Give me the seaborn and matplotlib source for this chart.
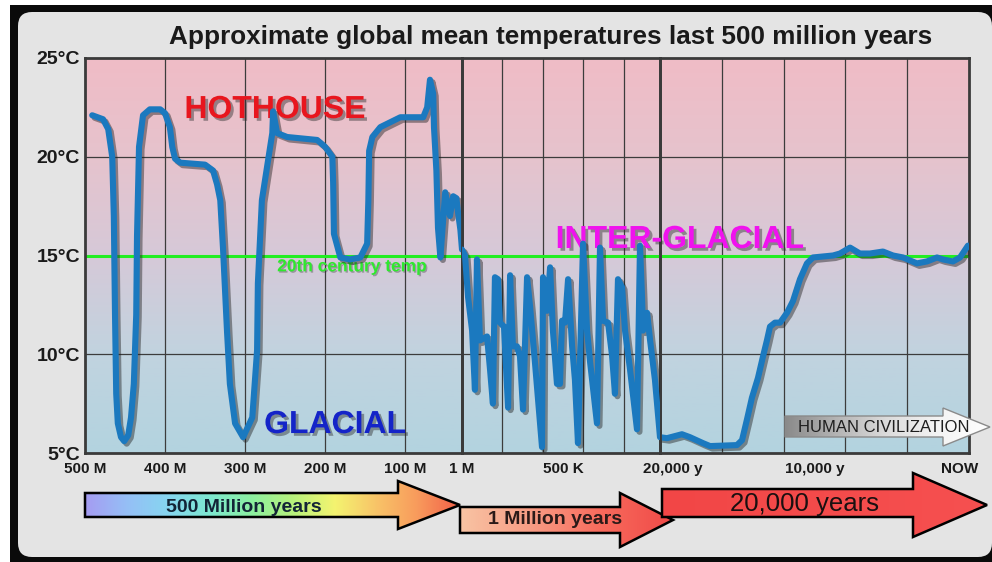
import numpy as np
import matplotlib
matplotlib.use("Agg")
import matplotlib.pyplot as plt
import matplotlib.patheffects as pe
from matplotlib.patches import Polygon, FancyBboxPatch, Rectangle
from matplotlib.colors import LinearSegmentedColormap
from matplotlib.transforms import ScaledTranslation
import seaborn as sns

# ---------------- data ----------------
# Panel 1: 500 million years (x = million years ago, schematic scale)
p1_myr = [491, 477.5, 471, 466, 464, 462.5, 461, 459, 455, 451, 446, 442.5, 439, 436, 435,
          432.5, 427.5, 419, 406, 400, 394, 391, 387.5, 381, 350, 340, 335, 331, 327.5, 322.5,
          319, 312.5, 302.5, 291, 285, 284, 279, 272.5, 266, 265, 260, 247.5, 210, 200, 191,
          190, 189, 181, 169, 156, 147.5, 146, 145, 141, 131, 106, 77.5, 72.5, 69, 65, 64, 61,
          59, 56, 50, 44, 40, 36, 34, 31, 29]
p1_temp = [22.1, 21.9, 21.4, 20.0, 17.0, 12.0, 8.0, 6.5, 5.8, 5.6, 5.9, 6.8, 8.5, 12.0, 16.0,
           20.5, 22.1, 22.4, 22.4, 22.2, 21.5, 20.5, 19.9, 19.7, 19.6, 19.3, 18.6, 17.8, 15.3, 11.1,
           8.5, 6.5, 5.8, 6.8, 10.2, 13.6, 17.8, 19.5, 21.2, 22.3, 21.2, 21.0, 20.85, 20.5, 20.0,
           18.7, 16.1, 14.9, 14.8, 14.9, 15.6, 17.8, 20.3, 21.0, 21.5, 22.0, 22.0, 22.5, 23.9, 23.2,
           21.5, 19.3, 16.4, 14.9, 18.2, 17.0, 18.0, 17.9, 17.2, 16.3, 15.3]

# Panel 2: last 1 million years (x = thousand years ago)
p2_kyr = [1000, 985, 970, 950, 936, 926, 911, 876, 861, 847, 837, 822, 812, 792, 772, 762, 748,
          728, 713, 698, 678, 663, 639, 604, 599, 579, 564, 550, 530, 515, 505, 490, 475, 455,
          441, 426, 401, 381, 366, 332, 317, 302, 277, 257, 243, 228, 208, 193, 168, 134, 119,
          109, 104, 84, 69, 45, 20]
p2_temp = [15.3, 15.0, 12.9, 11.2, 8.2, 14.8, 10.7, 10.9, 9.2, 7.5, 13.9, 13.8, 11.6, 11.4, 7.3,
           14.0, 10.4, 10.4, 9.9, 7.2, 13.9, 12.4, 9.6, 5.3, 13.9, 12.2, 14.4, 11.2, 8.5, 8.5,
           11.7, 11.6, 13.8, 10.4, 8.7, 5.5, 15.6, 11.2, 9.6, 6.5, 15.4, 11.7, 11.6, 9.9, 8.0,
           13.8, 13.4, 11.2, 9.2, 6.2, 15.5, 12.9, 11.2, 12.1, 10.7, 8.7, 5.8]

# Panel 3: last 20,000 years (x = years ago)
p3_yr = [20000, 19550, 18580, 18060, 17220, 16760, 15020, 14690, 14370, 14050, 13660, 13330,
         13080, 12880, 12560, 12230, 11780, 11390, 10940, 10490, 10100, 8800, 8350, 7700, 7060,
         6410, 5570, 4920, 4270, 3370, 2720, 2070, 1680, 1040, 580, 70]
p3_temp = [5.8, 5.75, 5.95, 5.8, 5.5, 5.35, 5.4, 5.65, 6.7, 7.8, 8.8, 9.9, 10.7, 11.4, 11.6,
           11.6, 12.1, 12.7, 13.8, 14.6, 14.9, 15.0, 15.1, 15.4, 15.1, 15.1, 15.2, 15.0, 14.9,
           14.6, 14.7, 14.9, 14.8, 14.7, 14.9, 15.5]

y_ticks = [5, 10, 15, 20, 25]
y_ticklabels = ["5°C", "10°C", "15°C", "20°C", "25°C"]
p1_ticks = [500, 400, 300, 200, 100]
p1_ticklabels = ["500 M", "400 M", "300 M", "200 M", "100 M"]
p2_ticks = [1000, 500]
p2_ticklabels = ["1 M", "500 K"]
p3_ticks = [20000, 10000, 0]
p3_ticklabels = ["20,000 y", "10,000 y", "NOW"]
p1_grid = [400, 300, 200, 100]
p2_grid = [800, 600, 400, 200]
p3_grid = [16000, 12000, 8000, 4000]
reference_temp = 15

title = "Approximate global mean temperatures last 500 million years"

# ---------------- style ----------------
sns.set_style("white")
plt.rcParams['font.family'] = ['Liberation Sans', 'DejaVu Sans']

W, HH = 992, 562
fig = plt.figure(figsize=(W / 100, HH / 100), dpi=100)
fig.patch.set_facecolor('white')


def fx(px):
    return px / W


def fy(py):
    return 1 - py / HH


# frame axes (pixel coordinates)
axf = fig.add_axes([0, 0, 1, 1], zorder=-2)
axf.axis('off')
axf.add_patch(Rectangle((10, 5), W - 10, HH - 5, facecolor='#0a0a0a', edgecolor='none', zorder=0))
axf.add_patch(FancyBboxPatch((30, 24), 950, 521, boxstyle='round,pad=12,rounding_size=14',
                             facecolor='#e4e4e4', edgecolor='none', zorder=1))
axf.text(551, 44, title, ha='center', va='baseline', fontsize=18.8, fontweight='bold',
         color='#1a1a1a', zorder=5)


def grad_arrow(ax, pts, colors, x0, x1, y0, y1, lw=1.8, ec='black', z=2):
    cm = LinearSegmentedColormap.from_list('g', colors)
    im = ax.imshow(np.linspace(0, 1, 256).reshape(1, -1), cmap=cm, aspect='auto',
                   extent=[x0, x1, y1, y0], zorder=z, interpolation='bilinear')
    clip = Polygon(pts, closed=True, transform=ax.transData)
    im.set_clip_path(clip)
    ax.add_patch(Polygon(pts, closed=True, facecolor='none', edgecolor=ec, linewidth=lw,
                         zorder=z + 0.5, joinstyle='miter'))


A1 = [(85, 493), (398, 493), (398, 481), (460, 505), (398, 529), (398, 517), (85, 517)]
A2 = [(460, 507), (620, 507), (620, 493), (673, 520), (620, 547), (620, 533), (460, 533)]
A3 = [(662, 489), (913, 489), (913, 473), (987, 505), (913, 537), (913, 517), (662, 517)]
grad_arrow(axf, A1, ['#a59cf2', '#95bff6', '#86d6f0', '#7de8d0', '#8cf0a0', '#b8f27c',
                     '#f4f470', '#f8c468', '#f89a5c', '#f26048'], 85, 460, 481, 529, z=2)
grad_arrow(axf, A2, ['#f8c4a4', '#f89c84', '#f86a5c', '#f04a48'], 460, 673, 493, 547, z=3)
grad_arrow(axf, A3, ['#f24646', '#f65050'], 662, 987, 473, 537, z=4)
axf.text(244, 507, "500 Million years", ha='center', va='center', fontsize=14,
         fontweight='bold', color='#132436', zorder=6)
axf.text(555, 520, "1 Million years", ha='center', va='center', fontsize=14,
         fontweight='bold', color='#2b1a18', zorder=6)
axf.text(805, 504, "20,000 years", ha='center', va='center', fontsize=18.5,
         color='#1a1010', zorder=6)
axf.set_xlim(0, W)
axf.set_ylim(HH, 0)

# background gradient behind the plot panels
B = fy(453)
H = (453 - 58) / HH
axbg = fig.add_axes([fx(85), B, fx(969) - fx(85), H], zorder=-1)
cmap_bg = LinearSegmentedColormap.from_list(
    'bg', [(0, '#b3d3e0'), (0.25, '#c1d3df'), (0.5, '#d6c9d8'), (0.75, '#e6c3cd'), (1, '#f0bcc6')])
axbg.imshow(np.linspace(0, 1, 256).reshape(-1, 1), aspect='auto', cmap=cmap_bg,
            origin='lower', extent=[0, 1, 0, 1])
axbg.axis('off')

line_color = '#1b79bf'
grid_color = '#3c3c3c'
panel_specs = [
    (85, 462, 1, (500, 29), p1_myr, p1_temp, p1_grid, p1_ticks, p1_ticklabels),
    (462, 660, 2, (1000, 20), p2_kyr, p2_temp, p2_grid, p2_ticks, p2_ticklabels),
    (660, 969, 1, (20000, 0), p3_yr, p3_temp, p3_grid, p3_ticks, p3_ticklabels),
]
axes = []
for i, (l, r, z, xl, xs, ys, grid, ticks, tlabels) in enumerate(panel_specs):
    ax = fig.add_axes([fx(l), B, fx(r) - fx(l), H], zorder=z)
    ax.set_facecolor('none')
    for g in grid:
        ax.axvline(g, color=grid_color, lw=0.9, zorder=1)
    for yv in (10, 20):
        ax.axhline(yv, color=grid_color, lw=0.9, zorder=1)
    ax.axhline(reference_temp, color='#22ee22', lw=2.2, zorder=2)
    sns.lineplot(x=xs, y=ys, ax=ax, sort=False, estimator=None, color=line_color,
                 linewidth=4.4, zorder=5)
    ln = ax.lines[-1]
    ln.set_solid_capstyle('round')
    ln.set_solid_joinstyle('round')
    ln.set_path_effects([pe.SimpleLineShadow(offset=(1.8, -1.8), shadow_color='#202020',
                                             alpha=0.45), pe.Normal()])
    ax.set_xlim(*xl)
    ax.set_ylim(5, 25)
    ax.set_xlabel('')
    ax.set_ylabel('')
    ax.set_xticks(ticks, labels=tlabels)
    if i == 0:
        ax.set_yticks(y_ticks, labels=y_ticklabels)
    else:
        ax.set_yticks([])
    ax.tick_params(axis='x', length=0, pad=6.5, labelsize=11, labelcolor='#1a1a1a')
    ax.tick_params(axis='y', length=0, pad=3.6, labelsize=14, labelcolor='#1a1a1a')
    for lab in ax.get_xticklabels() + ax.get_yticklabels():
        lab.set_fontweight('bold')
    for s in ax.spines.values():
        s.set_color('#3a3a3a')
        s.set_linewidth(2)
        s.set_visible(True)
    axes.append(ax)

ax1, ax2, ax3 = axes
# nudge a couple of tick labels like the original
offsets = {"20,000 y": 13, "NOW": -9}
for lab in ax3.get_xticklabels():
    dx = offsets.get(lab.get_text(), 0)
    if dx:
        lab.set_transform(lab.get_transform() + ScaledTranslation(dx / 100, 0, fig.dpi_scale_trans))

shadow = [pe.withSimplePatchShadow(offset=(2, -2), shadow_rgbFace='#303030', alpha=0.45)]
ax1.text(262.5, 21.96, "HOTHOUSE", ha='center', va='baseline', fontsize=23, fontweight='bold',
         color='#e8161e', zorder=3, path_effects=shadow)
ax1.text(187.5, 6.01, "GLACIAL", ha='center', va='baseline', fontsize=23, fontweight='bold',
         color='#1424c8', zorder=3, path_effects=shadow)
ax1.text(166, 14.2, "20th century temp", ha='center', va='baseline', fontsize=12.5,
         fontweight='bold', color='#2ee82e', zorder=3,
         path_effects=[pe.withSimplePatchShadow(offset=(1, -1), shadow_rgbFace='#303030', alpha=0.35)])
ax2.text(-79, 15.38, "INTER-GLACIAL", ha='center', va='baseline', fontsize=23, fontweight='bold',
         color='#f012ee', zorder=3, clip_on=False, path_effects=shadow)

# "HUMAN CIVILIZATION" arrow overlay
axo = fig.add_axes([0, 0, 1, 1], zorder=3)
axo.axis('off')
axo.patch.set_alpha(0)
HC = [(785, 416), (943, 416), (943, 408), (990, 427), (943, 446), (943, 437), (785, 437)]
grad_arrow(axo, HC, ['#8a8a8a', '#b4b4b4', '#dcdcdc', '#f4f4f4', '#ffffff'], 785, 990, 408, 446,
           lw=1.0, ec='#8a8a8a', z=2)
axo.text(884, 427, "HUMAN CIVILIZATION", ha='center', va='center', fontsize=12,
         color='#1e1e1e', zorder=4)
axo.set_xlim(0, W)
axo.set_ylim(HH, 0)

fig.savefig('out.png', dpi=100, facecolor=fig.get_facecolor())
